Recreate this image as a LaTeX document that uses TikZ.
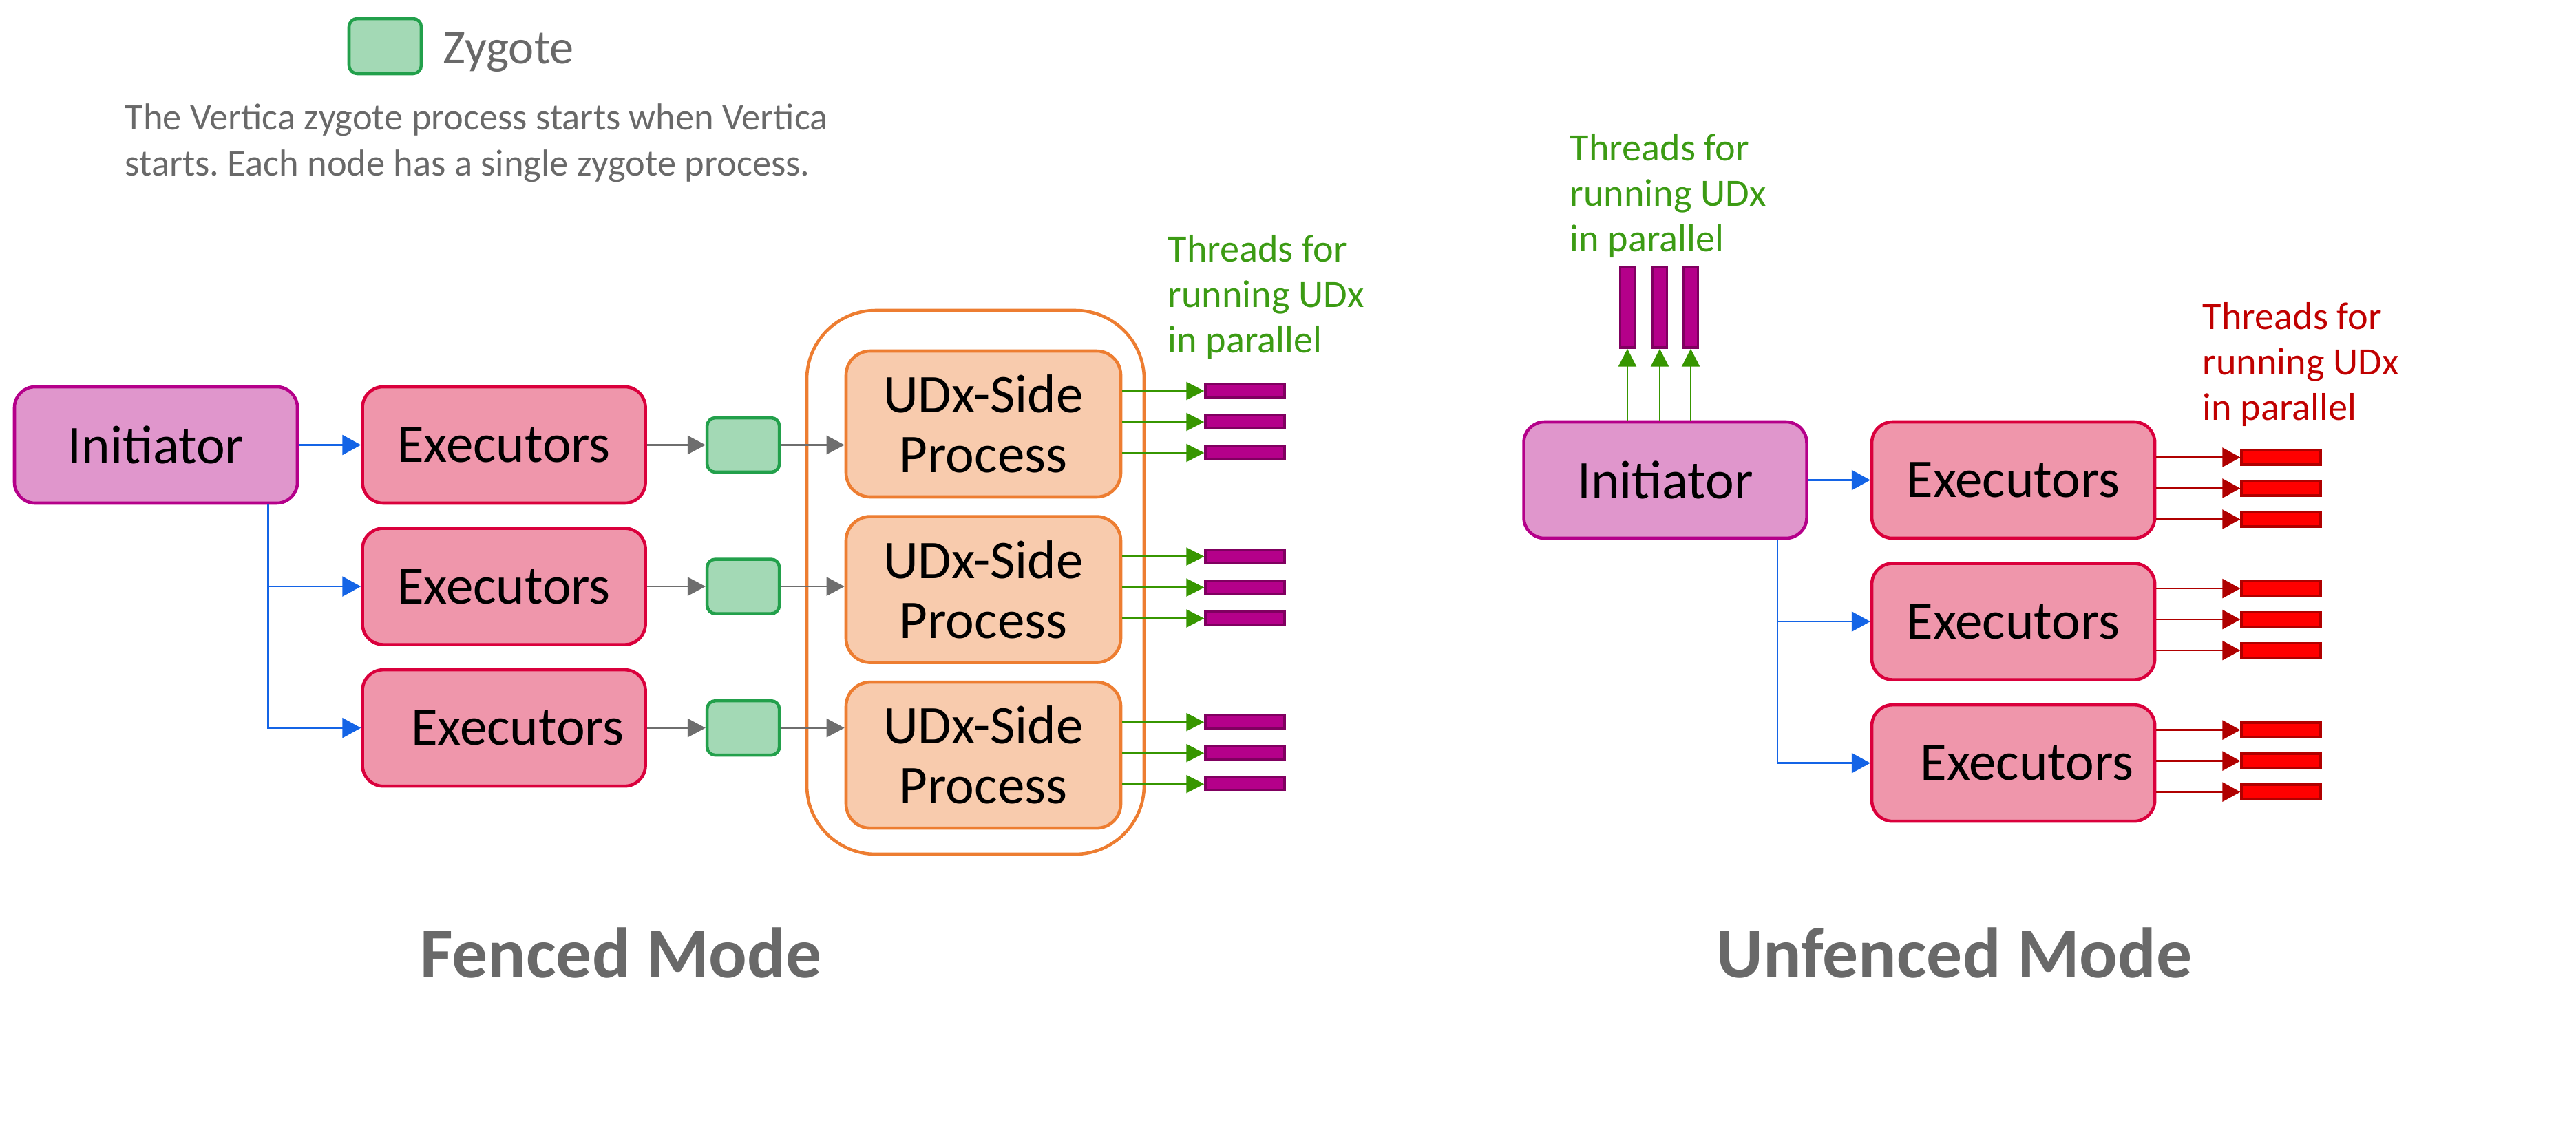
\documentclass[tikz,border=0pt]{standalone}
\usepackage{fontspec}
\setmainfont{Carlito}
\usepackage{tikz}
\usetikzlibrary{arrows.meta, positioning}
\frenchspacing

\definecolor{captiongray}{RGB}{105,105,105}
\definecolor{initfill}{RGB}{224,150,204}
\definecolor{initline}{RGB}{181,0,138}
\definecolor{execfill}{RGB}{239,150,171}
\definecolor{execline}{RGB}{218,0,60}
\definecolor{zyfill}{RGB}{163,217,181}
\definecolor{zyline}{RGB}{34,160,75}
\definecolor{udxfill}{RGB}{248,203,173}
\definecolor{udxline}{RGB}{237,125,49}
\definecolor{barfill}{RGB}{181,0,138}
\definecolor{barline}{RGB}{128,0,96}
\definecolor{rbarfill}{RGB}{255,0,0}
\definecolor{rbarline}{RGB}{176,0,0}
\definecolor{callblue}{RGB}{20,100,230}
\definecolor{passgray}{RGB}{110,110,110}
\definecolor{spawngreen}{RGB}{55,150,0}
\definecolor{notegreen}{RGB}{60,155,20}
\definecolor{notered}{RGB}{192,0,0}

\begin{document}
\begin{tikzpicture}[
    node distance=0.32cm and 0.9cm,
    initiator/.style={draw=initline, fill=initfill, line width=1.3pt, rounded corners=0.3cm, minimum width=4.11cm, minimum height=1.69cm, font=\fontsize{22.5}{27}\selectfont},
    executor/.style={draw=execline, fill=execfill, line width=1.3pt, rounded corners=0.3cm, minimum width=4.11cm, minimum height=1.69cm, font=\fontsize{22.5}{27}\selectfont},
    zygote/.style={draw=zyline, fill=zyfill, line width=1.3pt, rounded corners=0.12cm, minimum width=1.05cm, minimum height=0.79cm},
    udxbox/.style={draw=udxline, fill=udxfill, line width=1.3pt, rounded corners=0.35cm, minimum width=3.99cm, minimum height=2.12cm, align=center, font=\fontsize{22.5}{24.7}\selectfont},
    fencebox/.style={draw=udxline, line width=1.3pt, rounded corners=1cm, minimum width=4.9cm, minimum height=7.9cm},
    fthread/.style={draw=barline, fill=barfill, line width=1pt, inner sep=0pt, minimum width=1.15cm, minimum height=0.19cm},
    uthread/.style={draw=barline, fill=barfill, line width=1pt, inner sep=0pt, minimum width=0.21cm, minimum height=1.17cm},
    rthread/.style={draw=rbarline, fill=rbarfill, line width=1pt, inner sep=0pt, minimum width=1.15cm, minimum height=0.21cm},
    callarrow/.style={draw=callblue, line width=0.7pt, -{Triangle[length=0.27cm, width=0.29cm]}},
    passarrow/.style={draw=passgray, line width=0.7pt, -{Triangle[length=0.26cm, width=0.27cm]}},
    spawnarrow/.style={draw=spawngreen, line width=0.7pt, -{Triangle[length=0.26cm, width=0.26cm]}},
    runarrow/.style={draw=rbarline, line width=0.7pt, -{Triangle[length=0.26cm, width=0.28cm]}},
    threadnote/.style={align=left, inner sep=0pt, font=\fontsize{16}{18.8}\selectfont},
    modetitle/.style={text=captiongray, inner sep=0pt, font=\fontsize{29.5}{35}\selectfont\bfseries}
]
    \useasboundingbox (0,0) rectangle (37.42,-16.51);
    % Legend
    \node[zygote, minimum height=0.8cm] (legend) at (5.595,-0.67) {};
    \node[anchor=base west, inner sep=0pt, text=captiongray, font=\fontsize{20}{24}\selectfont] (legendtext) at (6.43,-0.93) {Zygote};
    \node[anchor=north west, align=left, inner sep=0pt, text=captiongray, font=\fontsize{15.5}{19}\selectfont] (legendnote) at (1.81,-1.5) {The Vertica zygote process starts when Vertica\\starts. Each node has a single zygote process.};
    % Fenced mode (left half)
    \node[initiator] (finit) at (2.265,-6.465) {Initiator};
    \node[executor, right=of finit] (fexec1) {Executors};
    \node[executor, below=of fexec1] (fexec2) {Executors};
    \node[executor, below=of fexec2] (fexec3) {\hspace{0.4cm}Executors};
    \node[fencebox] (fence) at (14.17,-8.46) {};
    \node[udxbox] (udx1) at (14.285,-6.16) {UDx-Side\\Process};
    \node[udxbox, below=0.24cm of udx1] (udx2) {UDx-Side\\Process};
    \node[udxbox, below=0.24cm of udx2] (udx3) {UDx-Side\\Process};
    \foreach \i in {1,2,3}{
        \node[zygote, right=0.85cm of fexec\i] (zyg\i) {};
        \draw[passarrow] (fexec\i) -- (zyg\i);
        \draw[passarrow] (zyg\i) -- (zyg\i -| udx\i.west);
        \foreach \k/\dy in {1/0.48,2/0.03,3/-0.42}{
            \node[fthread, right=1.19cm of udx\i.east, yshift=\dy cm] (ft\i\k) {};
            \draw[spawnarrow] (udx\i.east |- ft\i\k.west) -- (ft\i\k.west);
        }
    }
    \draw[callarrow] (finit) -- (fexec1);
    \coordinate (fsplit) at ([xshift=-0.45cm]finit.south east);
    \draw[callarrow] (fsplit) |- (fexec2);
    \draw[callarrow] (fsplit) |- (fexec3);
    \node[threadnote, text=notegreen, anchor=north west] (fnote) at (16.96,-3.41) {Threads for\\running UDx\\in parallel};
    \node[modetitle, anchor=base] (ftitle) at (9.02,-14.2) {Fenced Mode};
    % Unfenced mode (right half)
    \node[initiator] (uinit) at (24.19,-6.975) {Initiator};
    \node[executor, right=of uinit] (uexec1) {Executors};
    \node[executor, below=of uexec1] (uexec2) {Executors};
    \node[executor, below=of uexec2] (uexec3) {\hspace{0.4cm}Executors};
    \draw[callarrow] (uinit) -- (uexec1);
    \coordinate (usplit) at ([xshift=-0.45cm]uinit.south east);
    \draw[callarrow] (usplit) |- (uexec2);
    \draw[callarrow] (usplit) |- (uexec3);
    \foreach \k/\dx in {1/-0.55,2/-0.08,3/0.37}{
        \node[uthread, above=1.04cm of uinit.north, xshift=\dx cm] (ut\k) {};
        \draw[spawnarrow] (uinit.north -| ut\k.south) -- (ut\k.south);
    }
    \foreach \i/\lift in {1/-0.15,2/0,3/0}{
        \foreach \k/\dy in {1/0.48,2/0.03,3/-0.42}{
            \node[rthread, right=1.22cm of uexec\i.east, yshift={(\dy+\lift)*1cm}] (rt\i\k) {};
            \draw[runarrow] (uexec\i.east |- rt\i\k.west) -- (rt\i\k.west);
        }
    }
    \node[threadnote, text=notegreen, anchor=north west] (unote) at (22.8,-1.94) {Threads for\\running UDx\\in parallel};
    \node[threadnote, text=notered, anchor=north west] (rnote) at (31.99,-4.39) {Threads for\\running UDx\\in parallel};
    \node[modetitle, anchor=base] (utitle) at (28.39,-14.2) {Unfenced Mode};
\end{tikzpicture}
\end{document}
